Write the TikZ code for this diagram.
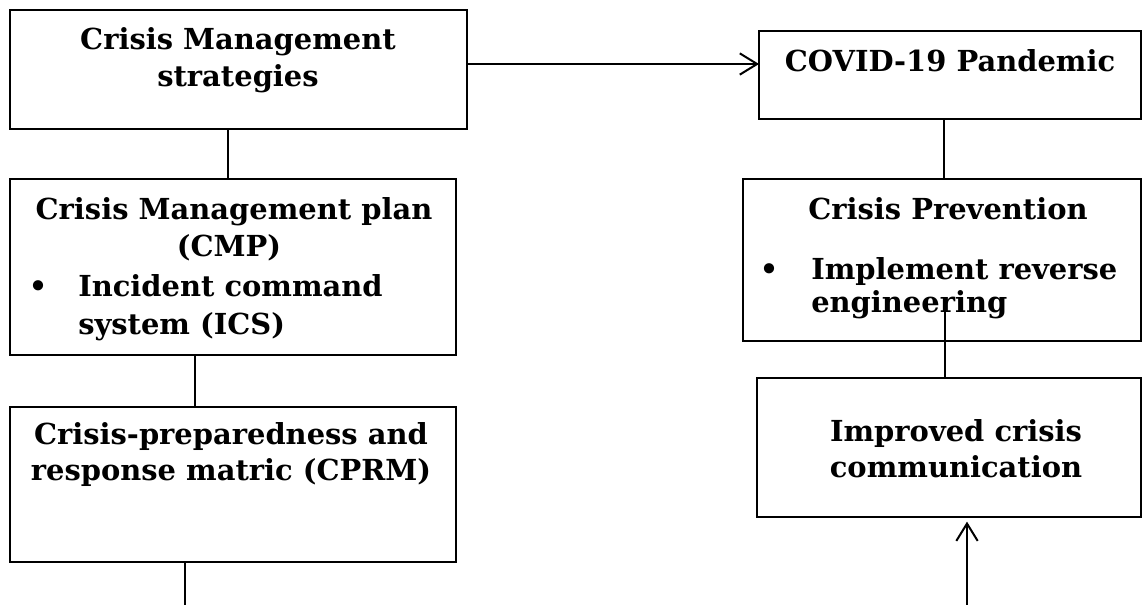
\documentclass[tikz,border=0pt]{standalone}
\usepackage{fontspec}
\setmainfont{DejaVu Serif}
\usetikzlibrary{arrows.meta,fit,calc}
\begin{document}
\begin{tikzpicture}[x=0.75pt,y=-0.75pt,
  box/.style={draw,line width=0.8pt,inner sep=0pt,outer sep=0pt},
  txt/.style={inner sep=0pt,font=\bfseries\fontsize{21.7}{24}\selectfont},
  conn/.style={line width=1pt},
  arr/.style={line width=1.5pt,-{Straight Barb[length=13pt,width=16pt,line width=1.5pt]}}]
\useasboundingbox (0,0) rectangle (1142,605);
% boxes
\node[box,fit={(10,10) (467,129)}] (b1) {};
\node[box,fit={(10,179) (456,355)}] (b2) {};
\node[box,fit={(10,407) (456,562)}] (b3) {};
\node[box,fit={(759,31) (1141,119)}] (b4) {};
\node[box,fit={(743,179) (1141,341)}] (b5) {};
\node[box,fit={(757,378) (1141,517)}] (b6) {};
% texts
\node[txt,anchor=base] (t1a) at (238,50) {Crisis Management};
\node[txt,anchor=base] (t1b) at (238,87) {strategies};
\node[txt,anchor=base] (t2a) at (234,220) {Crisis Management plan};
\node[txt,anchor=base] (t2b) at (229,257) {(CMP)};
\node[txt,anchor=base] (u2) at (38,297) {•};
\node[txt,anchor=base west] (t2c) at (78,297) {Incident command};
\node[txt,anchor=base west] (t2d) at (78,335) {system (ICS)};
\node[txt,anchor=base] (t3a) at (231,445) {Crisis-preparedness and};
\node[txt,anchor=base] (t3b) at (231,480) {response matric (CPRM)};
\node[txt,anchor=base] (t4) at (950,72) {COVID-19 Pandemic};
\node[txt,anchor=base] (t5a) at (948,220) {Crisis Prevention};
\node[txt,anchor=base] (u5) at (769,280) {•};
\node[txt,anchor=base west] (t5b) at (811,280) {Implement reverse};
\node[txt,anchor=base west] (t5c) at (811,313) {engineering};
\node[txt,anchor=base] (t6a) at (956,442) {Improved crisis};
\node[txt,anchor=base] (t6b) at (956,478) {communication};
% free ends
\coordinate (e3) at (185,606);
\coordinate (s5) at (945,300);
\coordinate (e6) at (967,606);
% connectors
\draw[conn] ($(b1.south west)+(218,0)$) -- ($(b2.north west)+(218,0)$);
\draw[conn] ($(b2.south west)+(185,0)$) -- ($(b3.north west)+(185,0)$);
\draw[conn] ($(b3.south west)+(175,0)$) -- (e3);
\draw[arr] ($(b1.north east)+(0,54)$) -- ($(b4.north west)+(0,33)$);
\draw[conn] ($(b4.south west)+(185,0)$) -- ($(b5.north west)+(201,0)$);
\draw[conn] (s5) -- ($(b6.north west)+(188,0)$);
\draw[arr,shorten >=3.5pt] (e6) -- ($(b6.south west)+(210,0)$);
\end{tikzpicture}
\end{document}
